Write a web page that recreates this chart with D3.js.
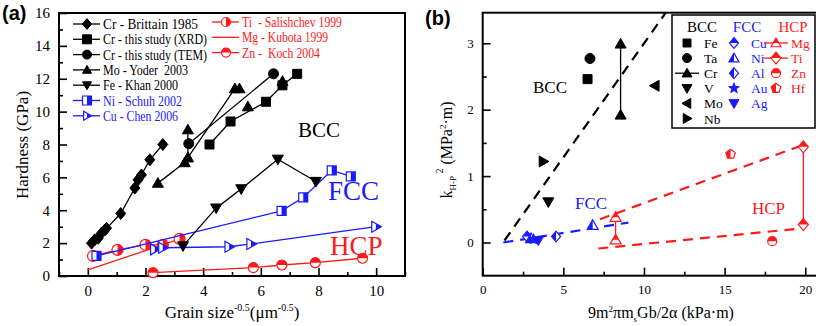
<!DOCTYPE html>
<html>
<head>
<meta charset="utf-8">
<script src="https://cdn.jsdelivr.net/npm/d3@7"></script>
<style>
  body { margin: 0; background: #fff; }
  text { font-family: "Liberation Serif", "DejaVu Serif", serif; }
  .lbl { font-family: "Liberation Sans", Arial, sans-serif; font-weight: bold; }
</style>
</head>
<body>
<svg id="chart" width="816" height="326"></svg>
<script>
// ---------- panel (a) data : [grain size^-0.5, hardness] ----------
const crBrittain = [[0.13,2.0],[0.24,2.2],[0.36,2.3],[0.47,2.6],[0.59,2.8],[0.65,2.9],[1.14,3.8],[1.63,5.35],[1.74,5.85],[1.86,6.15],[2.15,7.07],[2.6,8.0]];
const crXRD = [[4.22,8.0],[4.95,9.4],[6.18,10.6],[6.75,11.6],[7.26,12.3]];
const crTEM = [[3.5,8.05],[6.44,12.3]];
const moYoder = [[2.43,5.65],[3.36,6.9],[3.47,7.2],[5.1,11.4],[5.26,11.4]];
const moYoderBar = [[3.47,7.2],[3.47,8.9]];
const moYoderExtra = [[5.55,10.3],[6.75,11.85]];
const feKhan = [[3.3,1.83],[4.45,4.13],[5.32,5.3],[6.59,7.1],[7.91,5.75]];
const niSchuh = [[0.3,1.22],[6.72,3.96],[7.47,4.78],[8.46,6.42],[9.12,6.06]];
const cuChen = [[2.32,1.62],[2.6,1.72],[4.9,1.78],[5.66,1.95],[9.99,3.0]];
const tiSalishchev = [[0.18,1.22],[1.03,1.59],[2.0,1.89],[2.6,1.89],[3.18,2.26]];
const mgKubota = [[0,0.37],[2.6,1.9]];
const znKoch = [[2.26,0.2],[5.74,0.51],[6.73,0.67],[7.89,0.81],[9.53,1.08]];
const xTicksA = [0,2,4,6,8,10];
const yTicksA = [0,2,4,6,8,10,12,14,16];

// ---------- panel (b) data : [9m²πmsGb/2α, kH-P²] ----------
const bccFe = [[6.5,2.46]];
const bccTa = [[6.65,2.77]];
const bccCr = [[8.55,2.99],[8.55,1.92]];
const bccV = [[4.07,0.61]];
const bccMo = [[10.68,2.36]];
const bccNb = [[3.76,1.22]];
const fccCu = [[2.75,0.09]];
const fccNi = [[6.82,0.26],[3.0,0.06]];
const fccAl = [[4.55,0.09]];
const fccAu = [[3.15,0.05]];
const fccAg = [[3.45,0.03]];
const hcpMg = [[8.24,0.38],[8.24,0.04]];
const hcpTi = [[19.88,1.44],[19.88,0.27]];
const hcpZn = [[17.95,0.02]];
const hcpHf = [[15.37,1.33]];
const bccFit = [[1.35,0.03],[11.35,3.46]];
const fccFit = [[1.28,0.0],[9.03,0.3]];
const hcpFitUpper = [[7.27,0.35],[19.88,1.47]];
const hcpFitLower = [[7.17,-0.09],[19.67,0.21]];
const xTicksB = [0,5,10,15,20];
const yTicksB = [0,1,2,3];

const BLUE = '#1a1aff', RED = '#ff1a1a';
const svg = d3.select('#chart');

// half-fill clip regions (in marker local coords)
const defs = svg.append('defs');
const halves = {left:[-20,-20,20,40], right:[0,-20,20,40], top:[-20,-20,40,20], bottom:[-20,0,40,20]};
Object.entries(halves).forEach(([k,r]) => {
  defs.append('clipPath').attr('id','clip-'+k).attr('clipPathUnits','userSpaceOnUse')
    .append('rect').attr('x',r[0]).attr('y',r[1]).attr('width',r[2]).attr('height',r[3]);
});

function shapePath(shape, r) {
  const p = d3.path();
  if (shape === 'circle') { p.arc(0,0,r,0,2*Math.PI); }
  else if (shape === 'square') { p.rect(-r,-r,2*r,2*r); }
  else if (shape === 'diamond') { p.moveTo(0,-r*1.2); p.lineTo(r,0); p.lineTo(0,r*1.2); p.lineTo(-r,0); p.closePath(); }
  else if (shape === 'up') { p.moveTo(0,-r); p.lineTo(r,r*0.75); p.lineTo(-r,r*0.75); p.closePath(); }
  else if (shape === 'down') { p.moveTo(0,r); p.lineTo(r,-r*0.75); p.lineTo(-r,-r*0.75); p.closePath(); }
  else if (shape === 'left') { p.moveTo(-r,0); p.lineTo(r*0.75,-r); p.lineTo(r*0.75,r); p.closePath(); }
  else if (shape === 'right') { p.moveTo(r,0); p.lineTo(-r*0.75,-r); p.lineTo(-r*0.75,r); p.closePath(); }
  else if (shape === 'star') {
    for (let i = 0; i < 10; i++) {
      const a = -Math.PI/2 + i*Math.PI/5, rr = i%2 ? r*0.45 : r*1.1;
      i ? p.lineTo(rr*Math.cos(a), rr*Math.sin(a)) : p.moveTo(rr*Math.cos(a), rr*Math.sin(a));
    }
    p.closePath();
  }
  else if (shape === 'pentagon') {
    for (let i = 0; i < 5; i++) {
      const a = -Math.PI/2 + i*2*Math.PI/5;
      i ? p.lineTo(r*Math.cos(a), r*Math.sin(a)) : p.moveTo(r*Math.cos(a), r*Math.sin(a));
    }
    p.closePath();
  }
  return p.toString();
}

function marker(g, x, y, shape, r, color, fill) {
  const m = g.append('g').attr('transform', `translate(${x},${y})`);
  const d = shapePath(shape, r);
  if (fill === 'full') {
    m.append('path').attr('d', d).attr('fill', color).attr('stroke', color).attr('stroke-width', 1);
  } else {
    m.append('path').attr('d', d).attr('fill', '#fff').attr('stroke', color).attr('stroke-width', 1.2);
    if (fill !== 'none')
      m.append('path').attr('d', d).attr('fill', color).attr('clip-path', `url(#clip-${fill})`);
  }
}

// ================= PANEL (a) =================
const xA = d3.scaleLinear().domain([-1, 11]).range([59, 405]);
const yA = d3.scaleLinear().domain([0, 16]).range([276, 13]);
const gA = svg.append('g');

function axesFrame(g, x, y, xt, yt, xminor, yminor, fs, pad) {
  const [x0, x1] = x.range(), [y0, y1] = y.range();
  g.append('g').attr('transform', `translate(0,${y0})`)
    .call(d3.axisBottom(x).tickValues(xminor).tickSize(-4).tickFormat(''))
    .call(a => a.select('.domain').remove());
  g.append('g').attr('transform', `translate(0,${y0})`)
    .call(d3.axisBottom(x).tickValues(xt).tickSizeInner(-8).tickSizeOuter(0).tickPadding(pad).tickFormat(d3.format('d')))
    .call(a => a.select('.domain').remove())
    .call(a => a.selectAll('text').attr('font-size', fs).attr('font-family', 'Liberation Serif'));
  g.append('g').attr('transform', `translate(${x0},0)`)
    .call(d3.axisLeft(y).tickValues(yminor).tickSize(-4).tickFormat(''))
    .call(a => a.select('.domain').remove());
  g.append('g').attr('transform', `translate(${x0},0)`)
    .call(d3.axisLeft(y).tickValues(yt).tickSizeInner(-8).tickSizeOuter(0).tickPadding(pad).tickFormat(d3.format('d')))
    .call(a => a.select('.domain').remove())
    .call(a => a.selectAll('text').attr('font-size', fs).attr('font-family', 'Liberation Serif'));
  g.selectAll('.tick line').attr('stroke-width', 1.6);
  g.append('rect').attr('x', x0).attr('y', y1).attr('width', x1 - x0).attr('height', y0 - y1)
    .attr('fill', 'none').attr('stroke', '#000').attr('stroke-width', 2);
}

axesFrame(gA, xA, yA, xTicksA, yTicksA, [-1,1,3,5,7,9,11], [1,3,5,7,9,11,13,15], 15, 9);

const lineA = d3.line().x(d => xA(d[0])).y(d => yA(d[1]));
function seriesA(data, color, shape, fill, r, noLine) {
  if (!noLine) gA.append('path').datum(data).attr('d', lineA).attr('fill', 'none').attr('stroke', color).attr('stroke-width', 1.3);
  if (shape) data.forEach(d => marker(gA, xA(d[0]), yA(d[1]), shape, r, color, fill));
}
seriesA(mgKubota, RED, null);
seriesA(znKoch, RED, 'circle', 'top', 5);
seriesA(tiSalishchev, RED, 'circle', 'right', 5.5);
seriesA(cuChen, BLUE, 'right', 'right', 5.5);
seriesA(niSchuh, BLUE, 'square', 'right', 4.5);
seriesA(feKhan, '#000', 'down', 'full', 5.5);
seriesA(moYoder, '#000', 'up', 'full', 5.5);
seriesA(moYoderBar, '#000', 'up', 'full', 5.5);
seriesA(moYoderExtra, '#000', 'up', 'full', 5.5, true);
seriesA(crTEM, '#000', 'circle', 'full', 5);
seriesA(crXRD, '#000', 'square', 'full', 4.5);
seriesA(crBrittain, '#000', 'diamond', 'full', 5);

// legend (a): label, colour, marker, fill, text width (condensed serif)
const legA1 = [
  ['Cr - Brittain 1985', '#000', 'diamond', 'full', 95],
  ['Cr - this study (XRD)', '#000', 'square', 'full', 104],
  ['Cr - this study (TEM)', '#000', 'circle', 'full', 104],
  ['Mo - Yoder  2003', '#000', 'up', 'full', 85],
  ['Fe - Khan 2000', '#000', 'down', 'full', 75],
  ['Ni - Schuh 2002', BLUE, 'square', 'right', 79],
  ['Cu - Chen 2006', BLUE, 'right', 'right', 75]
];
const legA2 = [
  ['Ti  - Salishchev 1999', RED, 'circle', 'right', 100],
  ['Mg - Kubota 1999', RED, null, null, 86],
  ['Zn -  Koch 2004', RED, 'circle', 'top', 78]
];
function legendA(items, lx, ly, dy) {
  items.forEach((it, i) => {
    const y = ly + i * dy;
    gA.append('line').attr('x1', lx).attr('x2', lx + 27).attr('y1', y).attr('y2', y)
      .attr('stroke', it[1]).attr('stroke-width', 1.3);
    if (it[2]) marker(gA, lx + 14, y, it[2], 4.5, it[1], it[3]);
    gA.append('text').attr('x', lx + 30).attr('y', y + 5).attr('font-size', 14)
      .attr('textLength', it[4]).attr('lengthAdjust', 'spacingAndGlyphs')
      .attr('fill', it[1]).style('white-space', 'pre').text(it[0]);
  });
}
legendA(legA1, 73, 24, 15.3);
legendA(legA2, 212, 22, 15.3);

gA.append('text').attr('x', 298).attr('y', 137).attr('font-size', 21).text('BCC');
gA.append('text').attr('x', 328).attr('y', 200).attr('font-size', 27).attr('fill', BLUE).text('FCC');
gA.append('text').attr('x', 330).attr('y', 255).attr('font-size', 27).attr('fill', RED).text('HCP');

gA.append('text').attr('class', 'lbl').attr('x', 2).attr('y', 20).attr('font-size', 20).text('(a)');
gA.append('text').attr('transform', 'translate(28,145) rotate(-90)').attr('text-anchor', 'middle')
  .attr('font-size', 17).text('Hardness  (GPa)');
const xlabA = gA.append('text').attr('x', 232).attr('y', 318).attr('text-anchor', 'middle').attr('font-size', 17);
xlabA.append('tspan').text('Grain size');
xlabA.append('tspan').attr('dy', -7).attr('font-size', 10).text('-0.5');
xlabA.append('tspan').attr('dy', 7).text('(\u03bcm');
xlabA.append('tspan').attr('dy', -7).attr('font-size', 10).text('-0.5');
xlabA.append('tspan').attr('dy', 7).text(')');

// ================= PANEL (b) =================
const xB = d3.scaleLinear().domain([0, 21]).range([482.7, 821.4]);
const yB = d3.scaleLinear().domain([-0.5, 3.46]).range([275.7, 12.7]);
const gB = svg.append('g');
axesFrame(gB, xB, yB, xTicksB, yTicksB, [2.5,7.5,12.5,17.5], [0.5,1.5,2.5], 13, 9);

const clipB = defs.append('clipPath').attr('id', 'clipB');
clipB.append('rect').attr('x', 482.7).attr('y', 12.7).attr('width', 340).attr('height', 263);
const lineB = d3.line().x(d => xB(d[0])).y(d => yB(d[1]));
function fit(data, color) {
  gB.append('path').datum(data).attr('d', lineB).attr('clip-path', 'url(#clipB)')
    .attr('fill', 'none').attr('stroke', color).attr('stroke-width', 2.2).attr('stroke-dasharray', '10,7');
}
fit(bccFit, '#000');
fit(fccFit, BLUE);
fit(hcpFitUpper, RED);
fit(hcpFitLower, RED);

function vbar(data, color) {
  gB.append('path').datum(data).attr('d', lineB).attr('fill', 'none').attr('stroke', color).attr('stroke-width', 1.3);
}
vbar(bccCr, '#000');
vbar(hcpMg, RED);
vbar(hcpTi, RED);

function pts(data, color, shape, fill, r) {
  data.forEach(d => marker(gB, xB(d[0]), yB(d[1]), shape, r, color, fill));
}
pts(bccFe, '#000', 'square', 'full', 4.5);
pts(bccTa, '#000', 'circle', 'full', 5);
pts(bccCr, '#000', 'up', 'full', 5.5);
pts(bccV, '#000', 'down', 'full', 5.5);
pts(bccMo, '#000', 'left', 'full', 5.5);
pts(bccNb, '#000', 'right', 'full', 5.5);
pts(fccCu, BLUE, 'diamond', 'top', 4.5);
pts(fccNi, BLUE, 'up', 'left', 5.5);
pts(fccAl, BLUE, 'diamond', 'left', 4.5);
pts(fccAu, BLUE, 'star', 'full', 5);
pts(fccAg, BLUE, 'down', 'full', 5);
pts(hcpMg, RED, 'up', 'top', 5.5);
pts(hcpTi, RED, 'diamond', 'top', 5);
pts(hcpZn, RED, 'circle', 'top', 4.5);
pts(hcpHf, RED, 'pentagon', 'left', 5);

gB.append('text').attr('x', 533).attr('y', 93).attr('font-size', 17).text('BCC');
gB.append('text').attr('x', 575).attr('y', 209).attr('font-size', 17).attr('fill', BLUE).text('FCC');
gB.append('text').attr('x', 752).attr('y', 214).attr('font-size', 17).attr('fill', RED).text('HCP');

// legend (b)
gB.append('rect').attr('x', 672).attr('y', 15).attr('width', 143).attr('height', 113)
  .attr('fill', '#fff').attr('stroke', '#000').attr('stroke-width', 1.5);
gB.append('text').attr('x', 702).attr('y', 32).attr('text-anchor', 'middle').attr('font-size', 15).text('BCC');
gB.append('text').attr('x', 747).attr('y', 32).attr('text-anchor', 'middle').attr('font-size', 15).attr('fill', BLUE).text('FCC');
gB.append('text').attr('x', 793).attr('y', 32).attr('text-anchor', 'middle').attr('font-size', 15).attr('fill', RED).text('HCP');
const legB = [
  [687, 704, '#000', [['Fe','square','full',4],['Ta','circle','full',4.5],['Cr','up','full',5,true],['V','down','full',5],['Mo','left','full',5],['Nb','right','full',5]]],
  [734, 751, BLUE, [['Cu','diamond','top',4.5],['Ni','up','left',5],['Al','diamond','left',4.5],['Au','star','full',5],['Ag','down','full',5]]],
  [776, 791, RED, [['Mg','up','top',5,true],['Ti','diamond','top',5,true],['Zn','circle','top',4.5],['Hf','pentagon','left',5]]]
];
legB.forEach(([mx, tx, color, rows]) => {
  rows.forEach((r, i) => {
    const y = 43 + i * 15.1;
    if (r[4]) gB.append('line').attr('x1', mx - 12).attr('x2', mx + 12).attr('y1', y).attr('y2', y)
      .attr('stroke', color).attr('stroke-width', 1.3);
    marker(gB, mx, y, r[1], r[3], color, r[2]);
    gB.append('text').attr('x', tx).attr('y', y + 5).attr('font-size', 13.5).attr('fill', color).text(r[0]);
  });
});

gB.append('text').attr('class', 'lbl').attr('x', 425).attr('y', 25).attr('font-size', 20).text('(b)');
const ylabB = gB.append('text').attr('transform', 'translate(452,150) rotate(-90)').attr('text-anchor', 'middle').attr('font-size', 16);
ylabB.append('tspan').text('k');
ylabB.append('tspan').attr('dy', 4).attr('font-size', 9).text('H-P');
ylabB.append('tspan').attr('dy', -13).attr('font-size', 10).text(' 2');
ylabB.append('tspan').attr('dy', 9).text(' (MPa');
ylabB.append('tspan').attr('dy', -6).attr('font-size', 9).text('2');
ylabB.append('tspan').attr('dy', 6).text('\u00b7m)');
const xlabB = gB.append('text').attr('x', 661).attr('y', 318).attr('text-anchor', 'middle').attr('font-size', 16);
xlabB.append('tspan').text('9m');
xlabB.append('tspan').attr('dy', -6).attr('font-size', 9).text('2');
xlabB.append('tspan').attr('dy', 6).text('\u03c0m');
xlabB.append('tspan').attr('dy', 4).attr('font-size', 9).text('s');
xlabB.append('tspan').attr('dy', -4).text('Gb/2\u03b1 (kPa\u00b7m)');
</script>
</body>
</html>
